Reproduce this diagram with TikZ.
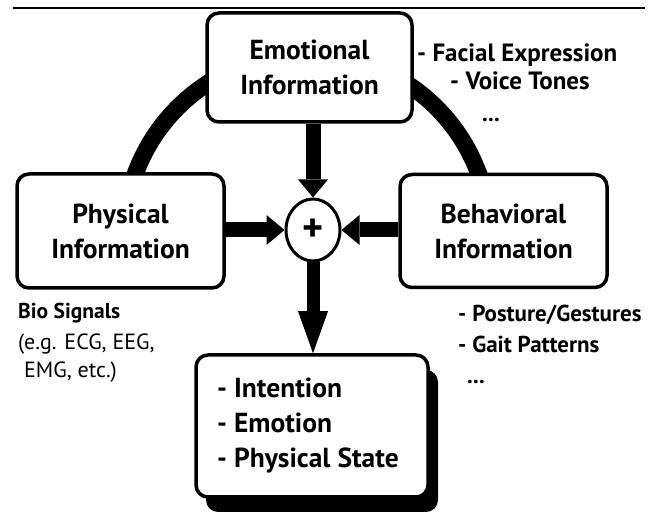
\documentclass[tikz,border=0pt]{standalone}
\usepackage{fontspec}
\setmainfont{PT Sans}
\usepackage{tikz}
\usetikzlibrary{arrows.meta,shapes.geometric,shadows}

\begin{document}
\begin{tikzpicture}[x=1pt,y=1pt,
    infobox/.style={draw,rounded corners=12pt,line width=3.5pt,fill=white,
      align=center,inner sep=0pt,font=\fontsize{27.5}{35}\selectfont\bfseries},
    sidetext/.style={inner sep=0pt,font=\fontsize{#1}{28}\selectfont\bfseries},
    sidetext/.default=23,
    thinnote/.style={inner sep=0pt,font=\fontsize{22}{26}\selectfont},
    fatarrow/.style={line width=15pt,-{Triangle[width=30pt,length=18pt,line width=0pt]}}]

    \useasboundingbox (0,0) rectangle (657,514);

    % Rule at the top
    \draw[line width=2pt] (13,506) -- (645,506);

    % Thick arc behind the three sources
    \coordinate (hub) at (307,277);
    \draw[line width=17pt] (hub) ++(17:183) arc[start angle=17,end angle=163,radius=183];

    % Place the information boxes
    \node[infobox,minimum width=205pt,minimum height=109pt] (emo)  at (309.5,446.5) {Emotional\\Information};
    \node[infobox,minimum width=207pt,minimum height=114pt] (phys) at (120.5,283) {Physical\\Information};
    \node[infobox,minimum width=207pt,minimum height=113pt] (beh)  at (503.5,283) {Behavioral\\Information};

    % Combining node
    \node[ellipse,draw,line width=3pt,fill=white,inner sep=0pt,
      minimum width=54pt,minimum height=62pt,
      font=\fontsize{40}{40}\selectfont\bfseries] (plus) at (313,284) {+};

    % Result box with its shadow
    \node[infobox,align=left,minimum width=232pt,minimum height=142pt,
      drop shadow={shadow xshift=10pt,shadow yshift=-15pt,opacity=1,fill=black}]
      (res) at (312,88) {- Intention\\- Emotion\\- Physical State\hspace*{8pt}};

    % Arrows into and out of the plus
    \draw[fatarrow] (plus |- emo.south) -- (plus.north);
    \draw[fatarrow] (phys.east |- plus) -- (plus.west);
    \draw[fatarrow] (beh.west |- plus) -- (plus.east);
    \draw[line width=13pt,-{Triangle[width=30pt,length=42pt,line width=0pt]}]
      (plus.south) -- (plus |- res.north);

    % Examples beside the boxes
    \node[sidetext=25,anchor=base west] (facial) at (417,452) {- Facial Expression};
    \node[sidetext=25,anchor=base west] (voice)  at (450,424) {- Voice Tones};
    \node[sidetext,anchor=base] (emodots) at (491,392) {...};

    \node[inner sep=0pt,font=\fontsize{21.5}{24}\selectfont\bfseries,anchor=base west] (bio) at (18,195) {Bio Signals};
    \node[thinnote,anchor=base west] (bioeg)  at (18,164) {(e.g. ECG, EEG,};
    \node[thinnote,anchor=base west] (bioetc) at (24,136) {EMG, etc.)};

    \node[sidetext,anchor=base west] (posture) at (458,192) {- Posture/Gestures};
    \node[sidetext,anchor=base west] (gait)    at (458,161) {- Gait Patterns};
    \node[sidetext,anchor=base] (behdots) at (476,130) {...};

  \end{tikzpicture}
\end{document}
